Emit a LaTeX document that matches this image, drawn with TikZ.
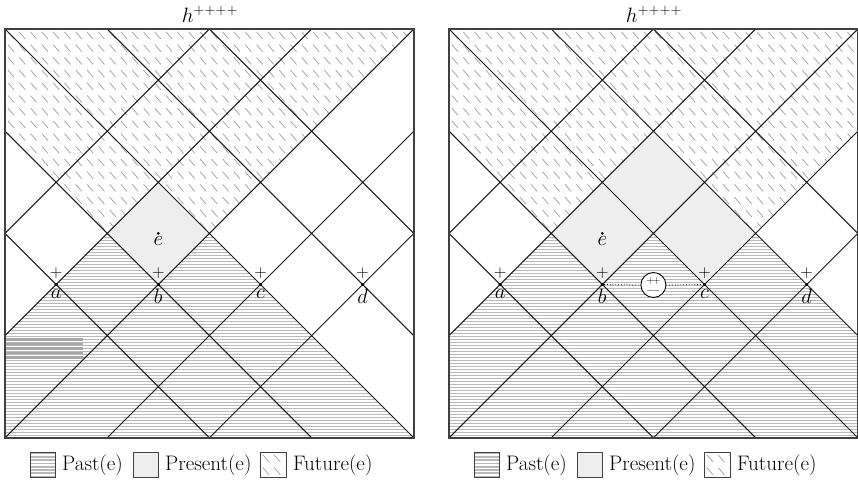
\documentclass[tikz,border=0pt]{standalone}
\usetikzlibrary{calc}
\tikzset{
  gridline/.style={black!90, line width=1pt},
  frameline/.style={black!75, line width=1.4pt},
  pastline/.style={gray!55, line width=1.1pt},
  artline/.style={gray!70, line width=2.6pt},
  futline/.style={gray!75, line width=0.7pt},
  presentfill/.style={fill=gray!13},
  ptdot/.style={circle, fill=black, inner sep=0pt, minimum size=3.4pt},
  plusmark/.style={font=\fontsize{19}{19}\selectfont, inner sep=0pt},
  ptlabel/.style={font=\fontsize{22}{22}\selectfont, inner sep=0pt, anchor=north},
  titletext/.style={font=\fontsize{21}{21}\selectfont, inner sep=0pt, anchor=base},
  legtext/.style={font=\fontsize{21}{21}\selectfont, anchor=base west, inner sep=0pt},
  swatch/.style={draw=black!75, line width=1pt},
  chargecircle/.style={circle, draw=black, fill=white, line width=0.9pt, minimum size=25pt, inner sep=0pt},
  chargetext/.style={font=\fontsize{10}{10}\selectfont, inner sep=0pt},
  linkline/.style={black, dotted, line width=0.8pt},
}
\newcommand\mygrid{%
  \draw[gridline] (0,2)--(2,4) (0,1)--(3,4) (0,0)--(4,4) (1,0)--(4,3) (2,0)--(4,2)
    (0,2)--(2,0) (0,3)--(3,0) (0,4)--(4,0) (1,4)--(4,1) (2,4)--(4,2);
  \draw[frameline] (0,0) rectangle (4,4);}
\newcommand\mypast{%
  \begin{scope}[x=1pt,y=-1pt]
    \foreach \k in {0,...,136}{\draw[pastline] (0,\k*3+1.5) -- (410,\k*3+1.5);}
  \end{scope}}
\newcommand\myfuture{%
  \begin{scope}[x=1pt,y=-1pt]
    \foreach \i in {0,...,36}{\foreach \j in {0,...,32}{\draw[futline] (\i*11.3+3,\j*12.7+3) -- ++(6,7);}}
  \end{scope}}
\begin{document}
\begin{tikzpicture}[x=1pt,y=-1pt]
\useasboundingbox (0,0) rectangle (858,482);
\fill[white] (0,0) rectangle (858,482);

% ---------- left panel ----------
\node[titletext] (Ltitle) at (210,22) {$h^{++++}$};
\begin{scope}[shift={(5,29)},x=102.2pt,y=-102.2pt]
  \fill[presentfill] (1.5,1.5)--(2,2)--(1.5,2.5)--(1,2)--cycle;
  \begin{scope}\clip (1,2)--(0,3)--(0,4)--(4,4)--(2,2)--(1.5,2.5)--cycle; \mypast\end{scope}
  \begin{scope}\clip (0,0)--(4,0)--(2,2)--(1.5,1.5)--(1,2)--(0,1)--cycle; \myfuture\end{scope}
  \begin{scope}[x=1pt,y=-1pt]
    \foreach \k in {0,...,4}{\draw[artline] (0,310.5+\k*4.5) -- (78,310.5+\k*4.5);}
  \end{scope}
  \mygrid
  \node[ptdot] (La) at (0.5,2.5) {};
  \node[ptdot] (Lb) at (1.5,2.5) {};
  \node[ptdot] (Lc) at (2.5,2.5) {};
  \node[ptdot] (Ld) at (3.5,2.5) {};
  \node[ptdot, minimum size=3pt] (Le) at (1.5,2) {};
  \node[plusmark] (Lpa) at (0.5,2.385) {$+$};
  \node[plusmark] (Lpb) at (1.5,2.385) {$+$};
  \node[plusmark] (Lpc) at (2.5,2.385) {$+$};
  \node[plusmark] (Lpd) at (3.5,2.385) {$+$};
  \node[ptlabel] (Lla) at (0.5,2.545) {$a$};
  \node[ptlabel] (Llb) at (1.5,2.545) {$b$};
  \node[ptlabel] (Llc) at (2.5,2.545) {$c$};
  \node[ptlabel] (Lld) at (3.5,2.545) {$d$};
  \node[ptlabel] (Lle) at (1.5,2.03) {$e$};
\end{scope}

% ---------- right panel ----------
\node[titletext] (Rtitle) at (654,22) {$h^{++++}$};
\begin{scope}[shift={(449,29)},x=102.2pt,y=-102.2pt]
  \fill[presentfill] (1,2)--(2,1)--(3,2)--(2.5,2.5)--(2,2)--(1.5,2.5)--cycle;
  \begin{scope}\clip (1,2)--(0,3)--(0,4)--(4,4)--(4,3)--(3,2)--(2.5,2.5)--(2,2)--(1.5,2.5)--cycle; \mypast\end{scope}
  \begin{scope}\clip (0,0)--(4,0)--(4,1)--(3,2)--(2,1)--(1,2)--(0,1)--cycle; \myfuture\end{scope}
  \mygrid
  \node[ptdot] (Ra) at (0.5,2.5) {};
  \node[ptdot] (Rb) at (1.5,2.5) {};
  \node[ptdot] (Rc) at (2.5,2.5) {};
  \node[ptdot] (Rd) at (3.5,2.5) {};
  \node[ptdot, minimum size=3pt] (Re) at (1.5,2) {};
  \node[plusmark] (Rpa) at (0.5,2.385) {$+$};
  \node[plusmark] (Rpb) at (1.5,2.385) {$+$};
  \node[plusmark] (Rpc) at (2.5,2.385) {$+$};
  \node[plusmark] (Rpd) at (3.5,2.385) {$+$};
  \node[ptlabel] (Rla) at (0.5,2.545) {$a$};
  \node[ptlabel] (Rlb) at (1.5,2.545) {$b$};
  \node[ptlabel] (Rlc) at (2.5,2.545) {$c$};
  \node[ptlabel] (Rld) at (3.5,2.545) {$d$};
  \node[ptlabel] (Rle) at (1.5,2.03) {$e$};
  \node[chargecircle] (Rq) at (2,2.505) {};
  \node[chargetext, anchor=base] (Rqp) at ($(Rq.center)+(0,-0.01)$) {$+\!+$};
  \node[chargetext, anchor=base] (Rqm) at ($(Rq.center)+(0,0.085)$) {$-\!-$};
  \draw[linkline] (Rb) -- (Rq.west);
  \draw[linkline] (Rq.east) -- (Rc);
\end{scope}

% ---------- legends ----------
\foreach \dx/\p in {0/L,444/R}{
  \begin{scope}[shift={(\dx,0)}]
    \begin{scope}
      \clip (30,452) rectangle (55,477);
      \foreach \k in {0,...,7}{\draw[gray!55, line width=1.8pt] (30,453.5+\k*3.3) -- (55,453.5+\k*3.3);}
    \end{scope}
    \draw[swatch] (30,452) rectangle (55,477);
    \node[legtext] at (62,470) {Past(e)};
    \draw[swatch, presentfill] (133,452) rectangle (158,477);
    \node[legtext] at (165,470) {Present(e)};
    \begin{scope}
      \clip (260,452) rectangle (286,477);
      \foreach \i in {0,1,2}{\foreach \j in {0,1}{\draw[futline] (263+\i*11.3,455+\j*12.7) -- ++(6,7);}}
    \end{scope}
    \draw[swatch] (260,452) rectangle (286,477);
    \node[legtext] at (293,470) {Future(e)};
  \end{scope}
}
\end{tikzpicture}
\end{document}
